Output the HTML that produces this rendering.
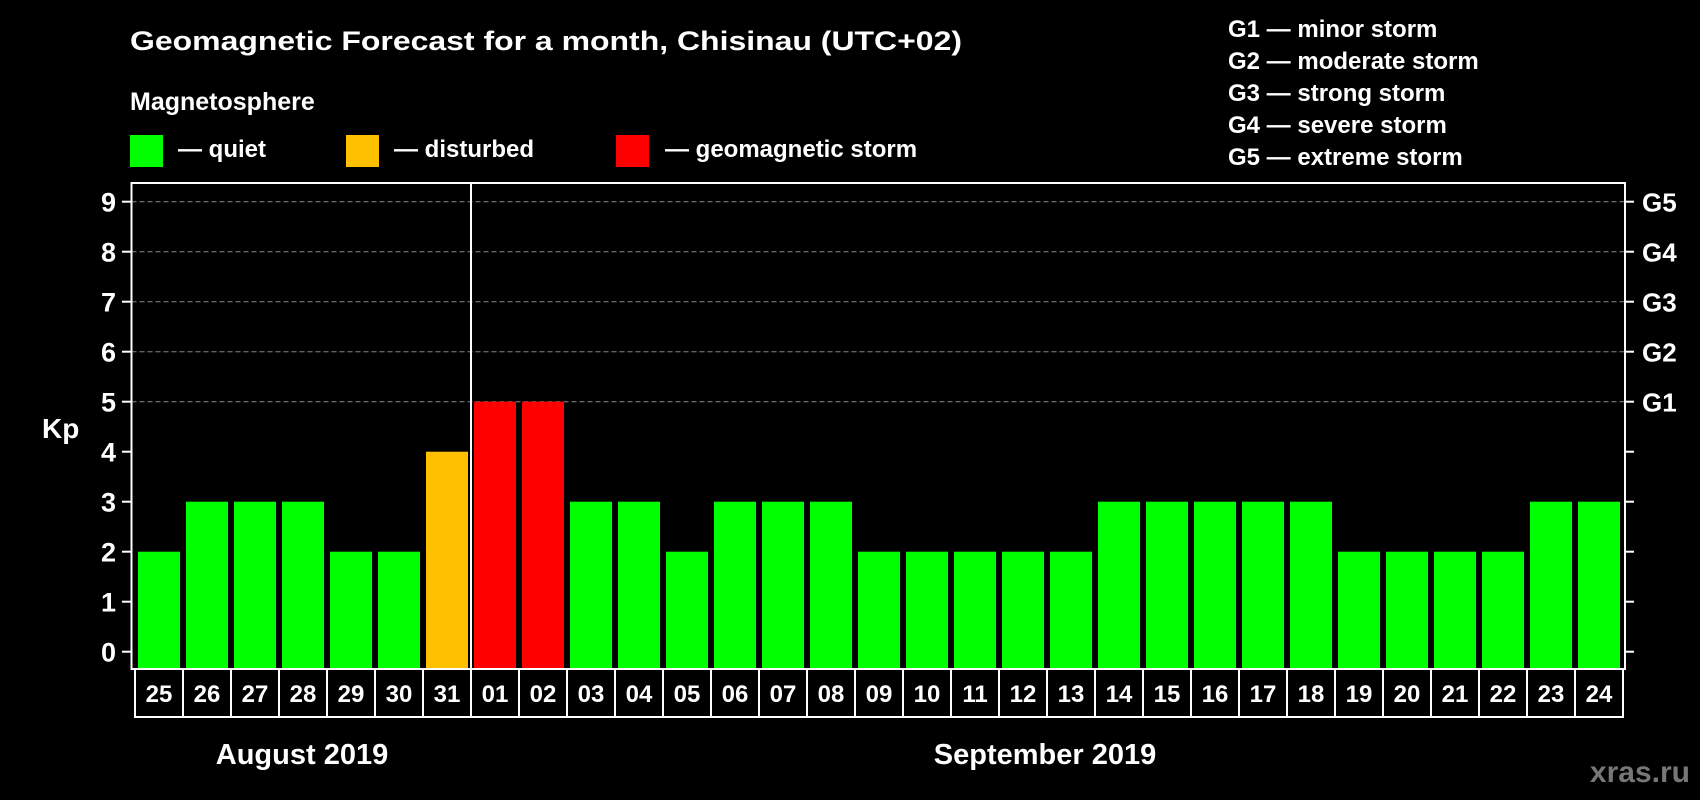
<!DOCTYPE html>
<html><head><meta charset="utf-8"><style>
html,body{margin:0;padding:0;background:#000;width:1700px;height:800px;overflow:hidden}
svg{display:block;font-family:"Liberation Sans",sans-serif;font-weight:bold}
</style></head><body>
<svg id="chart" width="1700" height="800" viewBox="0 0 1700 800">
<rect x="0" y="0" width="1700" height="800" fill="#000"/>
<text x="130" y="50" font-size="27" fill="#fff" textLength="832" lengthAdjust="spacingAndGlyphs">Geomagnetic Forecast for a month, Chisinau (UTC+02)</text>
<text x="130" y="110" font-size="25" fill="#fff">Magnetosphere</text>
<g>
<rect x="130" y="135" width="33" height="32" fill="#00ff00"/>
<text x="178" y="157" font-size="24" fill="#fff">— quiet</text></g>
<g>
<rect x="346" y="135" width="33" height="32" fill="#ffc000"/>
<text x="394" y="157" font-size="24" fill="#fff">— disturbed</text></g>
<g>
<rect x="616" y="135" width="33" height="32" fill="#ff0000"/>
<text x="665" y="157" font-size="24" fill="#fff">— geomagnetic storm</text></g>
<g font-size="24" fill="#fff">
<text x="1228" y="37">G1 — minor storm</text>
<text x="1228" y="69">G2 — moderate storm</text>
<text x="1228" y="101">G3 — strong storm</text>
<text x="1228" y="133">G4 — severe storm</text>
<text x="1228" y="165">G5 — extreme storm</text>
</g>
<text x="42" y="438" font-size="28" fill="#fff">Kp</text>
<g id="grid"></g>
<g id="bars"></g>
<g id="frame"></g>
<g id="dates"></g>
<text x="302" y="764" font-size="29" fill="#fff" text-anchor="middle">August 2019</text>
<text x="1045" y="764" font-size="29" fill="#fff" text-anchor="middle">September 2019</text>
<text x="1690" y="782" font-size="30" fill="#777" text-anchor="end">xras.ru</text>
</svg>
<script>
const days = ["25","26","27","28","29","30","31","01","02","03","04","05","06","07","08","09","10","11","12","13","14","15","16","17","18","19","20","21","22","23","24"];
const kpValues = [2,3,3,3,2,2,4,5,5,3,3,2,3,3,3,2,2,2,2,2,3,3,3,3,3,2,2,2,2,3,3];
const yTicks = [0,1,2,3,4,5,6,7,8,9];
const gLabels = ["G1","G2","G3","G4","G5"];
const gLevels = [5,6,7,8,9];

const NS="http://www.w3.org/2000/svg";
const X0=135, PITCH=48, BW=42;
const yScale = v => 651.7 - 50*v;
const xSlot = i => X0 + i*PITCH;
function mk(tag, attrs, parent){const e=document.createElementNS(NS,tag);for(const k in attrs)e.setAttribute(k,attrs[k]);parent.appendChild(e);return e;}
const grid=document.getElementById('grid'), bars=document.getElementById('bars'), frame=document.getElementById('frame'), dates=document.getElementById('dates');
const L=131.5, R=1625, T=183, B=669;
yTicks.forEach(v=>{
  const y=yScale(v);
  if(v>=5){const g=mk('line',{x1:L,x2:R,y1:y,y2:y,stroke:'#888','stroke-width':1,'stroke-dasharray':'5,3'},grid);
    
    }
  const t=mk('line',{x1:122,x2:L,y1:y,y2:y,stroke:'#fff','stroke-width':2},frame);
  
  
  const t2=mk('line',{x1:R,x2:1634,y1:y,y2:y,stroke:'#fff','stroke-width':2},frame);
  
  
  const lb=mk('text',{x:116,y:y+10,'font-size':27,fill:'#fff','text-anchor':'end'},frame);
  lb.textContent=v;
  
  
});
gLabels.forEach((g,i)=>{
  const lb=mk('text',{x:1642,y:yScale(gLevels[i])+10,'font-size':26,fill:'#fff'},frame);
  lb.textContent=g;
  
  
});
kpValues.forEach((v,i)=>{
  const col = v>=5?'#ff0000':(v===4?'#ffc000':'#00ff00');
  const r=mk('rect',{x:xSlot(i)+3,y:yScale(v),width:BW,height:B-1-yScale(v),fill:col},bars);
  
  
});
const fr=mk('rect',{x:L,y:T,width:R-L,height:B-T,fill:'none',stroke:'#fff','stroke-width':2},frame);


const sep=mk('line',{x1:471,x2:471,y1:T,y2:B,stroke:'#fff','stroke-width':2},frame);


days.forEach((d,i)=>{
  const c=mk('rect',{x:xSlot(i),y:669,width:PITCH,height:48,fill:'none',stroke:'#fff','stroke-width':2},dates);
  
  
  const t=mk('text',{x:xSlot(i)+PITCH/2,y:702,'font-size':24,fill:'#fff','text-anchor':'middle'},dates);
  t.textContent=d;
  
  
});
</script>
</body></html>
